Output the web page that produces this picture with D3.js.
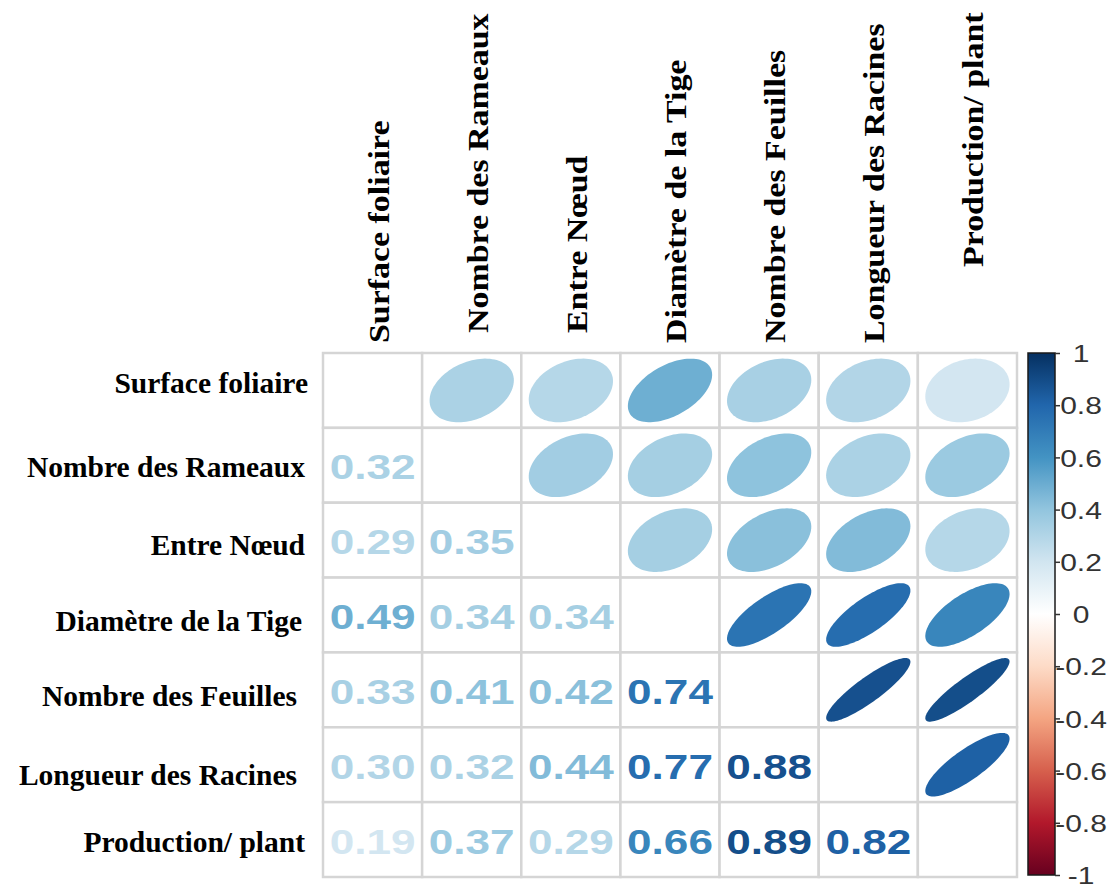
<!DOCTYPE html>
<html>
<head>
<meta charset="utf-8">
<script src="https://cdn.jsdelivr.net/npm/d3@7"></script>
<style>
  html, body { margin: 0; padding: 0; background: #ffffff; }
  svg { display: block; }
</style>
</head>
<body>
<svg id="chart" width="1115" height="890"></svg>
<script>
// Variables of the correlation matrix (rows and columns share the same order)
const variables = [
  "Surface foliaire",
  "Nombre des Rameaux",
  "Entre Nœud",
  "Diamètre de la Tige",
  "Nombre des Feuilles",
  "Longueur des Racines",
  "Production/ plant"
];

// Lower triangle of the correlation matrix, row by row
const corrRow1 = [];
const corrRow2 = [0.32];
const corrRow3 = [0.29, 0.35];
const corrRow4 = [0.49, 0.34, 0.34];
const corrRow5 = [0.33, 0.41, 0.42, 0.74];
const corrRow6 = [0.30, 0.32, 0.44, 0.77, 0.88];
const corrRow7 = [0.19, 0.37, 0.29, 0.66, 0.89, 0.82];

// Colour legend ticks
const legendTicks = [1, 0.8, 0.6, 0.4, 0.2, 0, -0.2, -0.4, -0.6, -0.8, -1];

// Diverging red-blue palette anchors
const paletteStops = [-1, -0.8, -0.6, -0.4, -0.2, 0, 0.2, 0.4, 0.6, 0.8, 1];
const paletteColors = ["#67001F", "#B2182B", "#D6604D", "#F4A582", "#FDDBC7", "#FFFFFF",
                       "#D1E5F0", "#92C5DE", "#4393C3", "#2166AC", "#053061"];

// ---- layout ----
const grid = { left: 323, right: 1017, top: 353, bottom: 877 };
const bar = { x: 1028, w: 27, top: 353, bottom: 875 };
// small per-label nudges for the axis labels
const rowLabelDx = [3, 0, 0, -3, -8, -8, 0];
const rowLabelDy = [-7, 2, 5, 6, 6, 10, 2];
const colLabelDy = [3, -7, -7, 3, 3, 3, -73];

const lower = [corrRow1, corrRow2, corrRow3, corrRow4, corrRow5, corrRow6, corrRow7];
const corr = (i, j) => i === j ? 1 : (i > j ? lower[i][j] : lower[j][i]);

const svg = d3.select("#chart");

const x = d3.scaleBand().domain(variables).range([grid.left, grid.right]);
const y = d3.scaleBand().domain(variables).range([grid.top, grid.bottom]);
const bw = x.bandwidth(), bh = y.bandwidth();

const color = d3.scaleLinear().domain(paletteStops).range(paletteColors).interpolate(d3.interpolateRgb);

// all cells of the matrix
const cells = [];
variables.forEach((rv, i) => variables.forEach((cv, j) => cells.push({ i, j, rv, cv, r: corr(i, j) })));

// grid
svg.append("g").selectAll("rect")
  .data(cells)
  .join("rect")
  .attr("x", d => x(d.cv))
  .attr("y", d => y(d.rv))
  .attr("width", bw)
  .attr("height", bh)
  .attr("fill", "#ffffff")
  .attr("stroke", "#d5d5d5")
  .attr("stroke-width", 2.5);

// ellipses in the upper triangle
const ellipsePath = (r) => {
  const a = Math.acos(r) / 2;
  const pts = d3.range(0, 100).map(k => {
    const t = 2 * Math.PI * k / 100;
    return [0.85 * bw * Math.cos(t + a) / 2, -0.85 * bh * Math.cos(t - a) / 2];
  });
  return d3.line().curve(d3.curveLinearClosed)(pts);
};

svg.append("g").selectAll("path")
  .data(cells.filter(d => d.j > d.i))
  .join("path")
  .attr("transform", d => `translate(${x(d.cv) + bw / 2},${y(d.rv) + bh / 2})`)
  .attr("d", d => ellipsePath(d.r))
  .attr("fill", d => color(d.r));

// coefficients in the lower triangle
const fmt = d3.format(".2f");
svg.append("g").selectAll("text")
  .data(cells.filter(d => d.j < d.i))
  .join("text")
  .attr("transform", d => `translate(${x(d.cv) + bw / 2},${y(d.rv) + bh / 2 + 14}) scale(1.26,1)`)
  .attr("text-anchor", "middle")
  .attr("font-family", "'Liberation Sans', Arial, Helvetica, sans-serif")
  .attr("font-weight", "bold")
  .attr("font-size", 35)
  .attr("fill", d => color(d.r))
  .text(d => fmt(d.r));

// row labels
svg.append("g").selectAll("text")
  .data(variables)
  .join("text")
  .attr("x", (d, i) => grid.left - 18 + rowLabelDx[i])
  .attr("y", (d, i) => y(d) + bh / 2 + 10 + rowLabelDy[i])
  .attr("text-anchor", "end")
  .attr("font-family", "'Liberation Serif', 'Times New Roman', serif")
  .attr("font-weight", "bold")
  .attr("font-size", 29.5)
  .attr("fill", "#000")
  .text(d => d);

// column labels
svg.append("g").selectAll("text")
  .data(variables)
  .join("text")
  .attr("transform", (d, i) => `translate(${x(d) + bw / 2 + 16},${340 + colLabelDy[i]}) rotate(-90) scale(1.15,1)`)
  .attr("text-anchor", "start")
  .attr("font-family", "'Liberation Serif', 'Times New Roman', serif")
  .attr("font-weight", "bold")
  .attr("font-size", 29.5)
  .attr("fill", "#000")
  .text(d => d);

// colour legend
const cScale = d3.scaleLinear().domain([-1, 1]).range([bar.bottom, bar.top]);
const defs = svg.append("defs");
const grad = defs.append("linearGradient")
  .attr("id", "corrGrad")
  .attr("x1", 0).attr("y1", 1).attr("x2", 0).attr("y2", 0);
grad.selectAll("stop")
  .data(paletteStops)
  .join("stop")
  .attr("offset", d => (d + 1) / 2)
  .attr("stop-color", d => color(d));

svg.append("rect")
  .attr("x", bar.x)
  .attr("y", bar.top)
  .attr("width", bar.w)
  .attr("height", bar.bottom - bar.top)
  .attr("fill", "url(#corrGrad)")
  .attr("stroke", "#1a1a1a")
  .attr("stroke-width", 1.5);

const legendAxis = svg.append("g")
  .attr("transform", `translate(${bar.x + bar.w},0)`)
  .call(d3.axisRight(cScale).tickValues(legendTicks).tickSize(5).tickFormat(d => String(d)));
legendAxis.select(".domain").remove();
legendAxis.selectAll(".tick line").attr("stroke", "#333").attr("stroke-width", 1.5);
legendAxis.selectAll(".tick text")
  .attr("x", 0)
  .attr("dy", "0.32em")
  .attr("text-anchor", "middle")
  .attr("transform", "translate(26,1) scale(1.25,1)")
  .attr("font-family", "'Liberation Sans', Arial, Helvetica, sans-serif")
  .attr("font-size", 24)
  .attr("fill", "#333");
</script>
</body>
</html>
